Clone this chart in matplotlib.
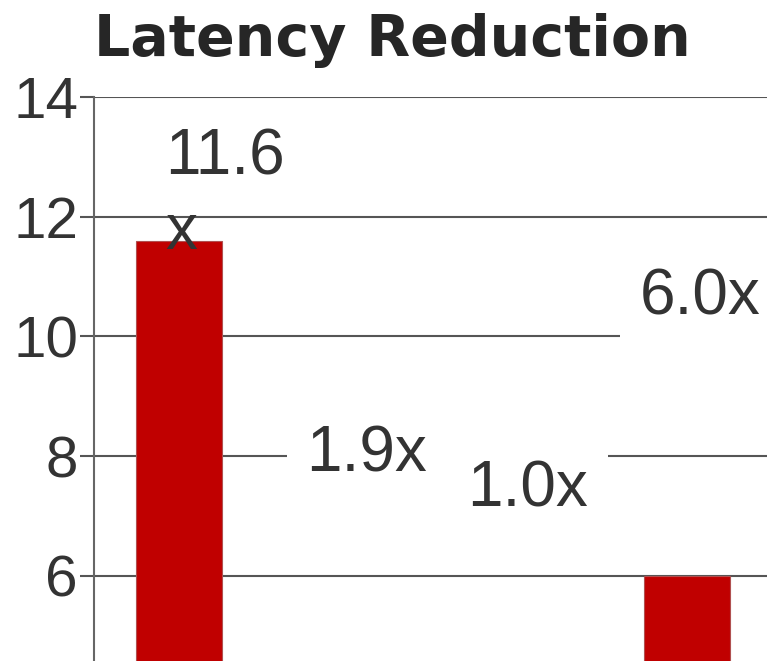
"""Latency reduction bar chart."""

import matplotlib.pyplot as plt
import numpy as np

plt.rcParams['font.family'] = ['Liberation Sans', 'DejaVu Sans']

# Data
categories = ['A', 'B', 'C', 'D']
speedups = [11.6, 1.9, 1.0, 6.0]

# Where each value label sits (x offset from the bar, y in data units)
label_dx = [-0.08, 0.11, 0.06, 0.08]
label_y = [12.37, 8.03, 7.45, 10.65]

BAR_COLOR = '#c00000'
TEXT_COLOR = '#333333'
GRID_COLOR = '#555555'
FONT_SIZE = 46

fig = plt.figure(figsize=(7.67, 6.61), dpi=100)
ax = fig.add_axes([94 / 767, 0.0, (771.7 - 94) / 767, 1 - 97 / 661])

x = np.arange(len(categories))
ax.bar(x, speedups, width=0.51, color=BAR_COLOR, edgecolor='#b05050',
       linewidth=0.8, zorder=2)

ax.set_xlim(-0.5, len(categories) - 0.5)
ax.set_ylim(4.58, 14)
ax.set_yticks([6, 8, 10, 12, 14])
ax.set_xticks([])

ax.yaxis.grid(True, color=GRID_COLOR, linewidth=1.5, zorder=0)
ax.set_axisbelow(True)
for side in ['top', 'right', 'bottom']:
    ax.spines[side].set_visible(False)
ax.spines['left'].set_color('#666666')
ax.spines['left'].set_linewidth(1.5)
ax.tick_params(axis='y', length=10, width=1.5, color=GRID_COLOR, pad=1.5,
               labelsize=42, labelcolor=TEXT_COLOR)

# Value labels
for i, v in enumerate(speedups):
    if i == 0:
        # first label wraps onto two lines and has no backing box
        ax.text(i + label_dx[i], label_y[i], f'{v:.1f}\nx', ha='left',
                va='center', fontsize=FONT_SIZE, color=TEXT_COLOR,
                linespacing=1.31, zorder=3)
    else:
        ax.text(i + label_dx[i], label_y[i], f'{v:.1f}x', ha='center',
                va='center', fontsize=FONT_SIZE, color=TEXT_COLOR, zorder=3,
                bbox=dict(boxstyle='square,pad=0.31', facecolor='white',
                          edgecolor='none'))

fig.text(392 / 767, 1 - 56 / 661, 'Latency Reduction', ha='center',
         va='baseline', fontsize=41, fontweight='bold', color='#262626',
         family='DejaVu Sans')

plt.savefig('out.png', dpi=100)
